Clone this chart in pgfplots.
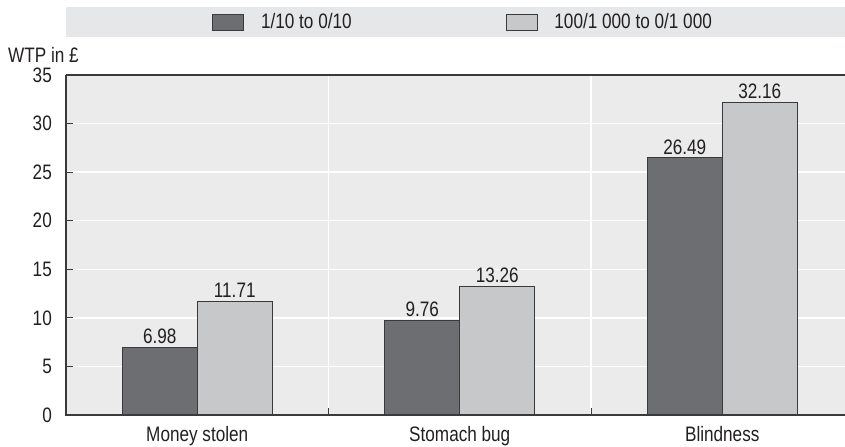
\documentclass[border=0pt]{standalone}
\usepackage{fontspec}
\setmainfont{Liberation Sans}[FakeStretch=0.82]
\usepackage{pgfplots}
\usepackage{pgfplotstable}
\pgfplotsset{compat=1.18}

\definecolor{darkbar}{HTML}{6D6E71}
\definecolor{lightbar}{HTML}{C7C8CA}
\definecolor{plotbg}{HTML}{EBEBEB}
\definecolor{legbg}{HTML}{E6E7E8}
\definecolor{inkc}{HTML}{231F20}
\definecolor{axisc}{HTML}{3A3A3A}

% Willingness to pay (GBP) by risk reduction framing
\pgfplotstableread{
x dark light
0 6.98 11.71
1 9.76 13.26
2 26.49 32.16
}\wtp

\begin{document}
\begin{tikzpicture}[font=\fontsize{21}{25}\selectfont, text=inkc]
\useasboundingbox (0,0) rectangle (845bp,447bp);
% legend band
\fill[legbg] (66bp,410bp) rectangle (845bp,440bp);
\begin{axis}[
  at={(66bp,32bp)}, anchor=south west,
  scale only axis, width=779bp, height=340bp,
  xmin=-0.5, xmax=2.4676, ymin=0, ymax=35,
  ybar=0pt, bar width=75bp,
  axis background/.style={fill=plotbg},
  axis line style={draw=none},
  /pgf/number format/assume math mode=true,
  xtick={0,1,2},
  xticklabels={Money stolen, Stomach bug, Blindness},
  xtick style={draw=none},
  xticklabel style={yshift=-8bp},
  extra x ticks={0.5,1.5},
  extra x tick labels={},
  extra x tick style={grid=major, xtick style={draw=axisc, line width=1bp}},
  ytick={0,5,...,35},
  ytick pos=left, xtick pos=bottom,
  tick align=inside,
  major tick length=7bp,
  ytick style={draw=axisc, line width=1bp},
  yticklabel style={inner sep=1bp, xshift=-13bp},
  ymajorgrids,
  major grid style={white, line width=1.5bp},
  ylabel={WTP in £},
  ylabel style={rotate=-90, at={(axis description cs:-0.0745,1.036)}, anchor=base west, inner sep=0pt},
  nodes near coords,
  nodes near coords style={font=\fontsize{21}{25}\selectfont, text=inkc, inner sep=3bp, anchor=south},
  legend columns=2,
  legend image code/.code={\draw[#1, draw=axisc, line width=0.8bp] (0bp,-8bp) rectangle (31bp,8bp);},
  legend style={at={(axis description cs:0.1875,1.156)}, anchor=west, draw=none, fill=none, inner sep=0pt,
    /tikz/every odd column/.append style={column sep=15bp},
    /tikz/every even column/.append style={column sep=152bp}},
]
\addplot[fill=darkbar, draw=axisc, line width=0.8bp] table[x=x, y=dark] {\wtp};
\addlegendentry{1/10 to 0/10}
\addplot[fill=lightbar, draw=axisc, line width=0.8bp] table[x=x, y=light] {\wtp};
\addlegendentry{100/1 000 to 0/1 000}
\end{axis}
% frame: left, bottom and top edges of the plot area
\draw[axisc, line width=1.5bp] (66bp,372bp) -- (66bp,32bp) -- (845bp,32bp);
\draw[axisc, line width=1.5bp] (66bp,372bp) -- (845bp,372bp);
\end{tikzpicture}
\end{document}
